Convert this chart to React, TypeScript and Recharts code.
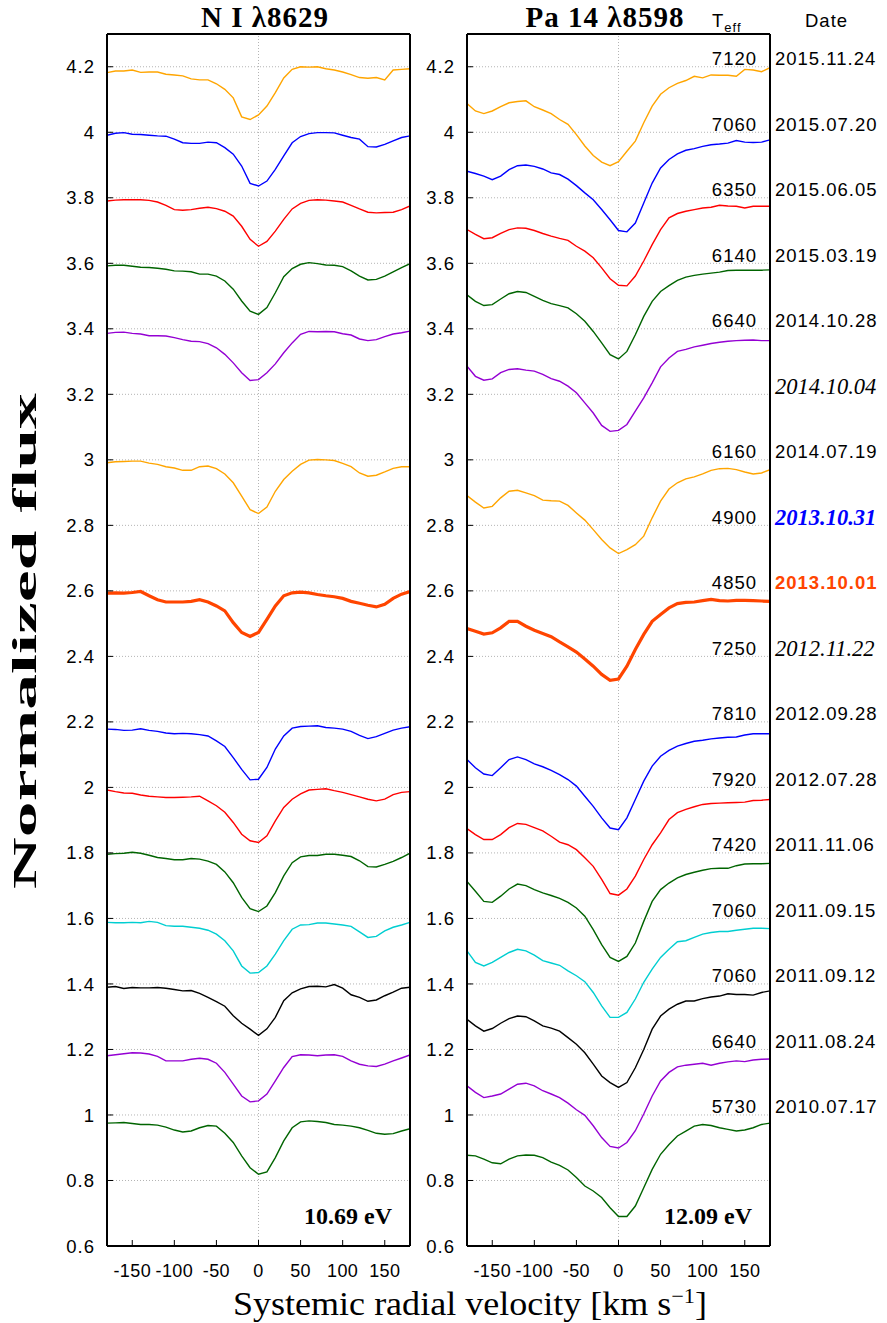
import React from 'react';
import { LineChart, Line, XAxis, YAxis, CartesianGrid, ReferenceLine, ReferenceDot, Label } from 'recharts';

// Systemic radial velocity grid [km/s]
const VELOCITY = [-180, -170, -160, -150, -140, -130, -120, -110, -100, -90, -80, -70, -60, -50, -40, -30, -20, -10, 0, 10, 20, 30, 40, 50, 60, 70, 80, 90, 100, 110, 120, 130, 140, 150, 160, 170, 180];

const X_TICKS = [-150, -100, -50, 0, 50, 100, 150];
const Y_TICKS = [0.6, 0.8, 1, 1.2, 1.4, 1.6, 1.8, 2, 2.2, 2.4, 2.6, 2.8, 3, 3.2, 3.4, 3.6, 3.8, 4, 4.2];

const DATES = ['2015.11.24', '2015.07.20', '2015.06.05', '2015.03.19', '2014.10.28', '2014.10.04', '2014.07.19', '2013.10.31', '2013.10.01', '2012.11.22', '2012.09.28', '2012.07.28', '2011.11.06', '2011.09.15', '2011.09.12', '2011.08.24', '2010.07.17'];
const TEFF = ['7120', '7060', '6350', '6140', '6640', '', '6160', '4900', '4850', '7250', '7810', '7920', '7420', '7060', '7060', '6640', '5730'];

// N I 8629 (offset spectra)
const n151124 = [4.182, 4.187, 4.187, 4.190, 4.183, 4.184, 4.184, 4.177, 4.175, 4.172, 4.163, 4.160, 4.160, 4.148, 4.131, 4.105, 4.047, 4.039, 4.053, 4.080, 4.121, 4.166, 4.192, 4.200, 4.199, 4.200, 4.194, 4.190, 4.184, 4.176, 4.167, 4.165, 4.167, 4.160, 4.190, 4.192, 4.194];
const n150720 = [3.991, 3.997, 3.999, 3.994, 3.993, 3.991, 3.989, 3.988, 3.979, 3.968, 3.966, 3.966, 3.970, 3.968, 3.953, 3.933, 3.897, 3.844, 3.836, 3.851, 3.887, 3.928, 3.968, 3.987, 3.996, 3.999, 3.999, 3.998, 3.991, 3.984, 3.979, 3.956, 3.955, 3.963, 3.974, 3.984, 3.989];
const n150605 = [3.790, 3.793, 3.794, 3.794, 3.794, 3.792, 3.787, 3.777, 3.764, 3.762, 3.764, 3.768, 3.771, 3.767, 3.759, 3.744, 3.713, 3.673, 3.652, 3.667, 3.698, 3.734, 3.766, 3.783, 3.792, 3.794, 3.793, 3.790, 3.787, 3.777, 3.766, 3.756, 3.754, 3.755, 3.756, 3.764, 3.775];
const n150319 = [3.592, 3.594, 3.594, 3.591, 3.588, 3.587, 3.585, 3.582, 3.577, 3.576, 3.574, 3.567, 3.567, 3.561, 3.546, 3.521, 3.485, 3.454, 3.444, 3.465, 3.510, 3.559, 3.584, 3.597, 3.602, 3.599, 3.595, 3.594, 3.590, 3.577, 3.561, 3.549, 3.551, 3.561, 3.574, 3.587, 3.599];
const n141028 = [3.386, 3.389, 3.390, 3.386, 3.384, 3.379, 3.379, 3.378, 3.373, 3.367, 3.362, 3.361, 3.355, 3.342, 3.322, 3.296, 3.266, 3.242, 3.245, 3.266, 3.293, 3.327, 3.357, 3.383, 3.392, 3.391, 3.392, 3.391, 3.385, 3.381, 3.369, 3.364, 3.367, 3.376, 3.384, 3.388, 3.393];
const n140719 = [2.991, 2.994, 2.995, 2.996, 2.996, 2.990, 2.986, 2.979, 2.975, 2.968, 2.968, 2.979, 2.981, 2.973, 2.957, 2.930, 2.889, 2.848, 2.836, 2.856, 2.904, 2.940, 2.965, 2.986, 2.999, 3.001, 3.000, 2.998, 2.989, 2.979, 2.960, 2.950, 2.953, 2.963, 2.974, 2.979, 2.979];
const n131001 = [2.593, 2.594, 2.593, 2.595, 2.598, 2.585, 2.573, 2.566, 2.566, 2.566, 2.568, 2.573, 2.566, 2.554, 2.539, 2.503, 2.473, 2.461, 2.473, 2.513, 2.554, 2.585, 2.594, 2.596, 2.594, 2.589, 2.585, 2.582, 2.577, 2.568, 2.562, 2.556, 2.551, 2.559, 2.577, 2.590, 2.598];
const n120928 = [2.178, 2.177, 2.174, 2.175, 2.179, 2.174, 2.171, 2.166, 2.164, 2.165, 2.164, 2.161, 2.157, 2.142, 2.125, 2.091, 2.055, 2.023, 2.025, 2.061, 2.117, 2.157, 2.181, 2.186, 2.187, 2.188, 2.183, 2.181, 2.178, 2.171, 2.159, 2.149, 2.155, 2.165, 2.175, 2.181, 2.185];
const n120728 = [1.992, 1.987, 1.983, 1.982, 1.977, 1.973, 1.971, 1.969, 1.969, 1.970, 1.971, 1.973, 1.959, 1.944, 1.924, 1.893, 1.857, 1.837, 1.832, 1.852, 1.898, 1.939, 1.964, 1.980, 1.992, 1.994, 1.996, 1.990, 1.985, 1.978, 1.971, 1.964, 1.959, 1.964, 1.978, 1.985, 1.987];
const n111106 = [1.796, 1.798, 1.799, 1.802, 1.799, 1.793, 1.786, 1.783, 1.779, 1.779, 1.783, 1.781, 1.775, 1.765, 1.742, 1.709, 1.664, 1.630, 1.621, 1.638, 1.679, 1.730, 1.770, 1.788, 1.792, 1.792, 1.796, 1.796, 1.793, 1.789, 1.776, 1.758, 1.757, 1.765, 1.774, 1.786, 1.799];
const n110915 = [1.588, 1.587, 1.587, 1.588, 1.587, 1.591, 1.588, 1.578, 1.576, 1.576, 1.573, 1.570, 1.564, 1.552, 1.532, 1.501, 1.455, 1.433, 1.435, 1.455, 1.491, 1.532, 1.567, 1.580, 1.581, 1.586, 1.586, 1.583, 1.580, 1.576, 1.559, 1.542, 1.545, 1.562, 1.573, 1.580, 1.588];
const n110912 = [1.390, 1.392, 1.386, 1.389, 1.388, 1.388, 1.389, 1.387, 1.383, 1.379, 1.380, 1.371, 1.359, 1.346, 1.332, 1.303, 1.280, 1.262, 1.243, 1.263, 1.298, 1.349, 1.373, 1.385, 1.392, 1.393, 1.391, 1.398, 1.387, 1.367, 1.359, 1.347, 1.351, 1.364, 1.375, 1.387, 1.390];
const n110824 = [1.181, 1.184, 1.187, 1.190, 1.189, 1.186, 1.179, 1.165, 1.165, 1.165, 1.170, 1.173, 1.170, 1.158, 1.130, 1.094, 1.058, 1.040, 1.043, 1.064, 1.104, 1.145, 1.178, 1.184, 1.183, 1.181, 1.183, 1.184, 1.179, 1.165, 1.155, 1.150, 1.148, 1.155, 1.165, 1.174, 1.183];
const n100717 = [0.975, 0.976, 0.977, 0.974, 0.971, 0.971, 0.969, 0.963, 0.954, 0.948, 0.951, 0.961, 0.968, 0.966, 0.944, 0.916, 0.875, 0.839, 0.819, 0.826, 0.870, 0.921, 0.961, 0.979, 0.982, 0.980, 0.977, 0.971, 0.969, 0.966, 0.961, 0.953, 0.944, 0.941, 0.943, 0.951, 0.958];

// Pa 14 8598 (offset spectra)
const p151124 = [4.088, 4.065, 4.057, 4.065, 4.078, 4.090, 4.094, 4.096, 4.078, 4.068, 4.057, 4.039, 4.024, 3.993, 3.958, 3.929, 3.909, 3.898, 3.910, 3.942, 3.973, 4.029, 4.080, 4.116, 4.136, 4.149, 4.158, 4.171, 4.166, 4.175, 4.174, 4.174, 4.171, 4.192, 4.190, 4.185, 4.197];
const p150720 = [3.881, 3.874, 3.866, 3.855, 3.866, 3.886, 3.898, 3.900, 3.896, 3.888, 3.876, 3.871, 3.857, 3.837, 3.815, 3.794, 3.764, 3.733, 3.700, 3.696, 3.723, 3.784, 3.845, 3.891, 3.917, 3.934, 3.945, 3.950, 3.957, 3.962, 3.964, 3.967, 3.975, 3.970, 3.969, 3.970, 3.977];
const p150605 = [3.703, 3.688, 3.675, 3.678, 3.691, 3.703, 3.708, 3.707, 3.700, 3.691, 3.683, 3.676, 3.670, 3.652, 3.637, 3.617, 3.586, 3.553, 3.533, 3.531, 3.561, 3.607, 3.657, 3.703, 3.739, 3.752, 3.759, 3.764, 3.769, 3.771, 3.777, 3.775, 3.774, 3.769, 3.774, 3.774, 3.774];
const p150319 = [3.504, 3.484, 3.471, 3.474, 3.491, 3.507, 3.514, 3.511, 3.499, 3.487, 3.477, 3.471, 3.464, 3.446, 3.423, 3.392, 3.357, 3.321, 3.308, 3.331, 3.382, 3.438, 3.484, 3.514, 3.532, 3.548, 3.558, 3.563, 3.567, 3.570, 3.573, 3.578, 3.579, 3.579, 3.579, 3.579, 3.580];
const p141028 = [3.286, 3.255, 3.243, 3.247, 3.266, 3.276, 3.278, 3.274, 3.271, 3.261, 3.248, 3.240, 3.225, 3.205, 3.174, 3.143, 3.105, 3.087, 3.090, 3.108, 3.149, 3.189, 3.235, 3.284, 3.311, 3.331, 3.337, 3.345, 3.350, 3.355, 3.359, 3.362, 3.364, 3.365, 3.366, 3.364, 3.364];
const p140719 = [2.891, 2.871, 2.853, 2.858, 2.884, 2.904, 2.907, 2.899, 2.891, 2.877, 2.875, 2.874, 2.861, 2.838, 2.816, 2.787, 2.757, 2.731, 2.714, 2.726, 2.741, 2.767, 2.823, 2.874, 2.911, 2.930, 2.942, 2.948, 2.957, 2.968, 2.973, 2.974, 2.970, 2.963, 2.957, 2.960, 2.970];
const p131001 = [2.485, 2.477, 2.468, 2.472, 2.487, 2.507, 2.507, 2.492, 2.480, 2.470, 2.460, 2.444, 2.429, 2.413, 2.392, 2.370, 2.345, 2.327, 2.331, 2.370, 2.421, 2.467, 2.507, 2.528, 2.548, 2.561, 2.565, 2.566, 2.570, 2.574, 2.570, 2.569, 2.571, 2.571, 2.570, 2.569, 2.568];
const p120928 = [2.085, 2.060, 2.041, 2.036, 2.060, 2.085, 2.093, 2.085, 2.072, 2.063, 2.052, 2.039, 2.024, 2.004, 1.973, 1.942, 1.907, 1.876, 1.871, 1.907, 1.963, 2.019, 2.065, 2.095, 2.113, 2.126, 2.134, 2.141, 2.144, 2.148, 2.151, 2.153, 2.154, 2.160, 2.164, 2.164, 2.164];
const p120728 = [1.874, 1.856, 1.841, 1.841, 1.856, 1.877, 1.890, 1.887, 1.877, 1.867, 1.851, 1.833, 1.825, 1.810, 1.785, 1.759, 1.719, 1.676, 1.671, 1.690, 1.729, 1.780, 1.825, 1.861, 1.902, 1.923, 1.933, 1.941, 1.948, 1.951, 1.952, 1.953, 1.954, 1.955, 1.960, 1.961, 1.963];
const p111106 = [1.713, 1.683, 1.652, 1.649, 1.668, 1.690, 1.705, 1.700, 1.688, 1.678, 1.670, 1.661, 1.649, 1.632, 1.607, 1.566, 1.520, 1.481, 1.469, 1.484, 1.525, 1.591, 1.652, 1.688, 1.708, 1.724, 1.734, 1.741, 1.747, 1.752, 1.753, 1.753, 1.761, 1.766, 1.767, 1.767, 1.768];
const p110915 = [1.501, 1.466, 1.455, 1.466, 1.481, 1.496, 1.506, 1.501, 1.488, 1.471, 1.464, 1.457, 1.440, 1.425, 1.407, 1.374, 1.333, 1.298, 1.298, 1.313, 1.354, 1.405, 1.445, 1.481, 1.506, 1.529, 1.532, 1.542, 1.552, 1.557, 1.560, 1.560, 1.564, 1.567, 1.570, 1.570, 1.569];
const p110912 = [1.292, 1.272, 1.256, 1.264, 1.280, 1.294, 1.302, 1.300, 1.287, 1.272, 1.265, 1.256, 1.236, 1.216, 1.190, 1.155, 1.119, 1.099, 1.084, 1.099, 1.144, 1.200, 1.262, 1.302, 1.323, 1.338, 1.348, 1.348, 1.355, 1.360, 1.363, 1.370, 1.368, 1.368, 1.366, 1.374, 1.379];
const p110824 = [1.089, 1.069, 1.053, 1.058, 1.064, 1.079, 1.094, 1.097, 1.089, 1.074, 1.064, 1.053, 1.036, 1.016, 0.999, 0.967, 0.931, 0.904, 0.899, 0.916, 0.952, 1.003, 1.058, 1.104, 1.130, 1.147, 1.152, 1.155, 1.158, 1.152, 1.158, 1.162, 1.165, 1.163, 1.168, 1.170, 1.171];
const p100717 = [0.877, 0.875, 0.865, 0.854, 0.851, 0.865, 0.875, 0.878, 0.877, 0.870, 0.856, 0.846, 0.832, 0.809, 0.783, 0.768, 0.748, 0.717, 0.690, 0.690, 0.722, 0.778, 0.834, 0.880, 0.910, 0.936, 0.951, 0.966, 0.971, 0.968, 0.961, 0.956, 0.951, 0.954, 0.961, 0.971, 0.975];

const N_SERIES = [n151124, n150720, n150605, n150319, n141028, n140719, n131001, n120928, n120728, n111106, n110915, n110912, n110824, n100717];
const PA_SERIES = [p151124, p150720, p150605, p150319, p141028, p140719, p131001, p120928, p120728, p111106, p110915, p110912, p110824, p100717];
const SERIES_COLORS = ['#FFA500', '#0000FF', '#FF0000', '#006400', '#9400D3', '#FFA500', '#FF4500', '#0000FF', '#FF0000', '#006400', '#00CED1', '#000000', '#9400D3', '#006400'];
const THICK_SERIES = 6;

const buildRows = (series: number[][]) =>
  VELOCITY.map((v, i) => {
    const row: Record<string, number> = { v };
    series.forEach((s, k) => { row['s' + k] = s[i]; });
    return row;
  });

const N_DATA = buildRows(N_SERIES);
const PA_DATA = buildRows(PA_SERIES);

const SANS = 'Liberation Sans, Arial, Helvetica, sans-serif';
const SERIF = 'Liberation Serif, Times New Roman, serif';
const PLOT_W = 303;
const PLOT_TOP = 34;
const PLOT_BOTTOM = 1246;
const Y_AXIS_W = 60;
const X_AXIS_H = 40;
const TOP_AXIS_H = 10;
const RIGHT_AXIS_W = 10;
const Y_TICK_STYLE = { fill: '#000', fontSize: 18.5, fontFamily: SANS, letterSpacing: 1 };
const X_TICK_STYLE = { fill: '#000', fontSize: 18, fontFamily: SANS, letterSpacing: 0.4 };
const GRID = '#b4b4b4';

function dateStyle(i: number) {
  const d = DATES[i];
  if (d === '2014.10.04' || d === '2012.11.22') return { fontFamily: SERIF, fontStyle: 'italic', fontSize: 22.5, fill: '#000', fontWeight: 'normal' as const };
  if (d === '2013.10.31') return { fontFamily: SERIF, fontStyle: 'italic', fontSize: 22.5, fill: '#0000FF', fontWeight: 'bold' as const };
  if (d === '2013.10.01') return { fontFamily: SANS, fontStyle: 'normal', fontSize: 18.5, fill: '#FF4500', fontWeight: 'bold' as const, letterSpacing: 1 };
  return { fontFamily: SANS, fontStyle: 'normal', fontSize: 18.5, fill: '#000', fontWeight: 'normal' as const, letterSpacing: 1 };
}

const rowLabel = (i: number) => (props: any) => {
  const vb = props.viewBox || {};
  const cx = (vb.x || 0) + (vb.width || 0) / 2;
  const cy = (vb.y || 0) + (vb.height || 0) / 2;
  return (
    <g>
      {TEFF[i] ? (
        <text x={cx - 13} y={cy} dy="0.36em" textAnchor="end" fontFamily={SANS} fontSize={18.5} letterSpacing={1} fill="#000">
          {TEFF[i]}
        </text>
      ) : null}
      <text x={cx + 5} y={cy} dy="0.36em" textAnchor="start" {...dateStyle(i)}>
        {DATES[i]}
      </text>
    </g>
  );
};

function Panel({ data, left, withRows }: { data: Record<string, number>[]; left: number; withRows: boolean }) {
  return (
    <div style={{ position: 'absolute', left: 0, top: 0 }}>
      <LineChart
        width={887}
        height={1323}
        data={data}
        margin={{
          top: PLOT_TOP - TOP_AXIS_H,
          right: 887 - left - PLOT_W - RIGHT_AXIS_W,
          bottom: 1323 - PLOT_BOTTOM - X_AXIS_H,
          left: left - Y_AXIS_W,
        }}
      >
        <CartesianGrid vertical={false} stroke={GRID} strokeDasharray="1 2" />
        <ReferenceLine x={0} stroke={GRID} strokeDasharray="1 2" />
        <XAxis
          dataKey="v"
          type="number"
          domain={[-180, 180]}
          ticks={X_TICKS}
          allowDataOverflow
          height={X_AXIS_H}
          tickSize={-6}
          tickMargin={24}
          axisLine={{ stroke: '#000', strokeWidth: 2 }}
          tickLine={{ stroke: '#000', strokeWidth: 1 }}
          tick={X_TICK_STYLE}
          interval={0}
        />
        <XAxis
          xAxisId="top"
          orientation="top"
          dataKey="v"
          type="number"
          domain={[-180, 180]}
          ticks={X_TICKS}
          allowDataOverflow
          height={TOP_AXIS_H}
          tickSize={-6}
          axisLine={{ stroke: '#000', strokeWidth: 2 }}
          tickLine={{ stroke: '#000', strokeWidth: 1 }}
          tick={false}
          interval={0}
        />
        <YAxis
          type="number"
          domain={[0.6, 4.3]}
          ticks={Y_TICKS}
          allowDataOverflow
          width={Y_AXIS_W}
          tickSize={-6}
          tickMargin={18}
          axisLine={{ stroke: '#000', strokeWidth: 2 }}
          tickLine={{ stroke: '#000', strokeWidth: 1 }}
          tick={Y_TICK_STYLE}
          interval={0}
        />
        <YAxis
          yAxisId="right"
          orientation="right"
          type="number"
          domain={[0.6, 4.3]}
          ticks={Y_TICKS}
          allowDataOverflow
          width={RIGHT_AXIS_W}
          tickSize={-6}
          axisLine={{ stroke: '#000', strokeWidth: 2 }}
          tickLine={{ stroke: '#000', strokeWidth: 1 }}
          tick={false}
          interval={0}
        />
        {SERIES_COLORS.map((c, k) => (
          <Line
            key={k}
            type="linear"
            dataKey={'s' + k}
            stroke={c}
            strokeWidth={k === THICK_SERIES ? 3.2 : 1.4}
            dot={false}
            activeDot={false}
            isAnimationActive={false}
          />
        ))}
        {withRows
          ? DATES.map((d, i) => (
              <ReferenceDot key={d} x={180} y={4.225 - 0.2 * i} r={0} fill="none" stroke="none" ifOverflow="visible">
                <Label content={rowLabel(i)} />
              </ReferenceDot>
            ))
          : null}
      </LineChart>
    </div>
  );
}

export default function App() {
  return (
    <div style={{ position: 'absolute', left: 0, top: 0, width: 887, height: 1323, background: '#fff' }}>
      <Panel data={N_DATA} left={107} withRows={false} />
      <Panel data={PA_DATA} left={467} withRows={true} />
      <svg width={887} height={1323} style={{ position: 'absolute', left: 0, top: 0, pointerEvents: 'none' }}>
        <text x={265} y={27} textAnchor="middle" fontFamily={SERIF} fontWeight="bold" fontSize={29} letterSpacing={1}>
          N I λ8629
        </text>
        <text x={605} y={27} textAnchor="middle" fontFamily={SERIF} fontWeight="bold" fontSize={29} letterSpacing={1}>
          Pa 14 λ8598
        </text>
        <text x={712} y={27} fontFamily={SANS} fontSize={18.5} letterSpacing={1}>
          T<tspan fontSize={13} dy={5}>eff</tspan>
        </text>
        <text x={805} y={27} fontFamily={SANS} fontSize={18.5} letterSpacing={1}>
          Date
        </text>
        <text x={392} y={1224} textAnchor="end" fontFamily={SERIF} fontWeight="bold" fontSize={24}>
          10.69 eV
        </text>
        <text x={752} y={1224} textAnchor="end" fontFamily={SERIF} fontWeight="bold" fontSize={24}>
          12.09 eV
        </text>
        <text
          transform="translate(36,641) rotate(-90)"
          x={-248}
          y={0}
          fontFamily={SERIF}
          fontWeight="bold"
          fontSize={34}
          textLength={496}
          lengthAdjust="spacingAndGlyphs"
        >
          Normalized flux
        </text>
        <text x={233} y={1315} fontFamily={SERIF} fontSize={34} textLength={474} lengthAdjust="spacingAndGlyphs">
          Systemic radial velocity [km s<tspan dy={-12} fontSize={21}>−1</tspan><tspan dy={12}>]</tspan>
        </text>
      </svg>
    </div>
  );
}
